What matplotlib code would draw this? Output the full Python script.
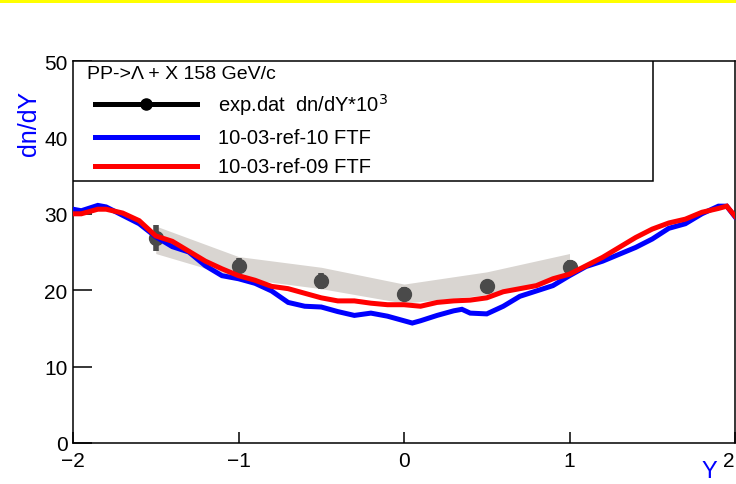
import matplotlib
matplotlib.use("Agg")
import matplotlib.pyplot as plt
from matplotlib.patches import Rectangle
from matplotlib.lines import Line2D

plt.rcParams['font.family'] = ['Liberation Sans', 'DejaVu Sans']

# model curves (rapidity, dn/dY)
y_blue = [-2.0, -1.95, -1.85, -1.8, -1.7, -1.6, -1.5, -1.4, -1.3, -1.2, -1.1, -1.0,
          -0.9, -0.8, -0.7, -0.6, -0.5, -0.4, -0.3, -0.2, -0.1, 0.0, 0.05, 0.1,
          0.2, 0.3, 0.35, 0.4, 0.5, 0.6, 0.7, 0.8, 0.9, 1.0, 1.1, 1.2, 1.3, 1.4,
          1.5, 1.6, 1.7, 1.8, 1.9, 1.95, 2.0]
dn_blue = [30.6, 30.4, 31.1, 30.9, 29.8, 28.7, 27.0, 25.7, 25.0, 23.2, 21.9, 21.5,
           20.9, 19.9, 18.4, 17.9, 17.8, 17.2, 16.7, 17.0, 16.6, 16.0, 15.7, 16.0,
           16.7, 17.3, 17.5, 17.0, 16.9, 17.9, 19.2, 19.9, 20.6, 21.9, 23.1, 23.8,
           24.7, 25.6, 26.7, 28.1, 28.7, 30.0, 31.0, 31.0, 29.6]

y_red = [-2.0, -1.95, -1.85, -1.8, -1.7, -1.6, -1.5, -1.4, -1.3, -1.2, -1.1, -1.0,
         -0.9, -0.8, -0.7, -0.6, -0.5, -0.4, -0.3, -0.2, -0.1, 0.0, 0.1, 0.2,
         0.3, 0.4, 0.5, 0.6, 0.7, 0.8, 0.9, 1.0, 1.1, 1.2, 1.3, 1.4, 1.5, 1.6,
         1.7, 1.8, 1.9, 1.95, 2.0]
dn_red = [30.0, 30.0, 30.6, 30.6, 30.1, 29.1, 27.1, 26.4, 25.1, 23.8, 22.8, 21.9,
          21.3, 20.5, 20.2, 19.6, 19.0, 18.6, 18.6, 18.3, 18.1, 18.1, 17.9, 18.4,
          18.6, 18.7, 19.0, 19.8, 20.2, 20.6, 21.5, 22.1, 23.2, 24.3, 25.6, 26.9,
          28.0, 28.8, 29.3, 30.2, 30.7, 31.0, 29.7]

# experimental points with systematic band
y_exp = [-1.5, -1.0, -0.5, 0.0, 0.5, 1.0]
dn_exp = [26.8, 23.2, 21.2, 19.5, 20.5, 23.0]
err_exp = [1.7, 1.0, 1.0, 0.9, 0.9, 0.9]
band_hi = [28.4, 24.4, 23.0, 20.8, 22.4, 24.8]
band_lo = [24.8, 21.6, 20.2, 18.3, 19.4, 22.0]

fig = plt.figure(figsize=(7.36, 4.85), dpi=100)
fig.patches.append(Rectangle((0, 1 - 4 / 485), 1, 4 / 485, transform=fig.transFigure,
                             facecolor='#ffff00', edgecolor='none'))
ax = fig.add_axes([73 / 736, 41 / 485, 662 / 736, 382 / 485])

ax.fill_between(y_exp, band_lo, band_hi, color='#d9d5d1', lw=0, zorder=1)
ax.plot(y_blue, dn_blue, color='#0000ff', lw=3.6, zorder=3, solid_joinstyle='miter')
ax.plot(y_red, dn_red, color='#ff0000', lw=3.6, zorder=4, solid_joinstyle='miter')
ax.errorbar(y_exp, dn_exp, yerr=err_exp, fmt='o', color='#4a4a4a', ms=10,
            elinewidth=4, capsize=0, zorder=2)

ax.set_xlim(-2, 2)
ax.set_ylim(0, 50)
ax.set_xticks([-2, -1, 0, 1, 2])
ax.set_xticklabels(['\u22122', '\u22121', '0', '1', '2'])
ax.set_yticks([0, 10, 20, 30, 40, 50])
ax.tick_params(axis='y', direction='in', length=14, width=1.1, labelsize=15, pad=4)
ax.tick_params(axis='x', direction='in', length=8, width=1.1, labelsize=15, pad=6)
ax.get_xticklabels()[-1].set_horizontalalignment('right')
for s in ax.spines.values():
    s.set_linewidth(1.1)

ax.text(-0.066, 0.84, 'dn/dY', color='#0000ff', fontsize=18, rotation=90,
        ha='center', va='center', transform=ax.transAxes)
ax.text(0.962, -0.072, 'Y', color='#0000ff', fontsize=17,
        ha='center', va='center', transform=ax.transAxes)

# legend box
ax.add_patch(Rectangle((0, 0.686), 0.876, 0.314, transform=ax.transAxes,
                       facecolor='white', edgecolor='black', lw=1.1, zorder=5))
ax.text(0.021, 0.966, 'PP->\u039b + X 158 GeV/c', fontsize=14, ha='left', va='center',
        transform=ax.transAxes, zorder=6)
entries = [('exp.dat  dn/dY*10$^{3}$', 'black', 0.888),
           ('10-03-ref-10 FTF', '#0000ff', 0.800),
           ('10-03-ref-09 FTF', '#ff0000', 0.725)]
for label, c, yy in entries:
    ax.add_line(Line2D([0.033, 0.187], [yy, yy], color=c, lw=3.6,
                       transform=ax.transAxes, zorder=6))
    ax.text(0.219, yy, label, fontsize=14.5, ha='left', va='center',
            transform=ax.transAxes, zorder=6)
ax.plot([0.11], [0.888], 'o', color='black', ms=8, transform=ax.transAxes, zorder=7)

fig.savefig('out.png', dpi=100)
